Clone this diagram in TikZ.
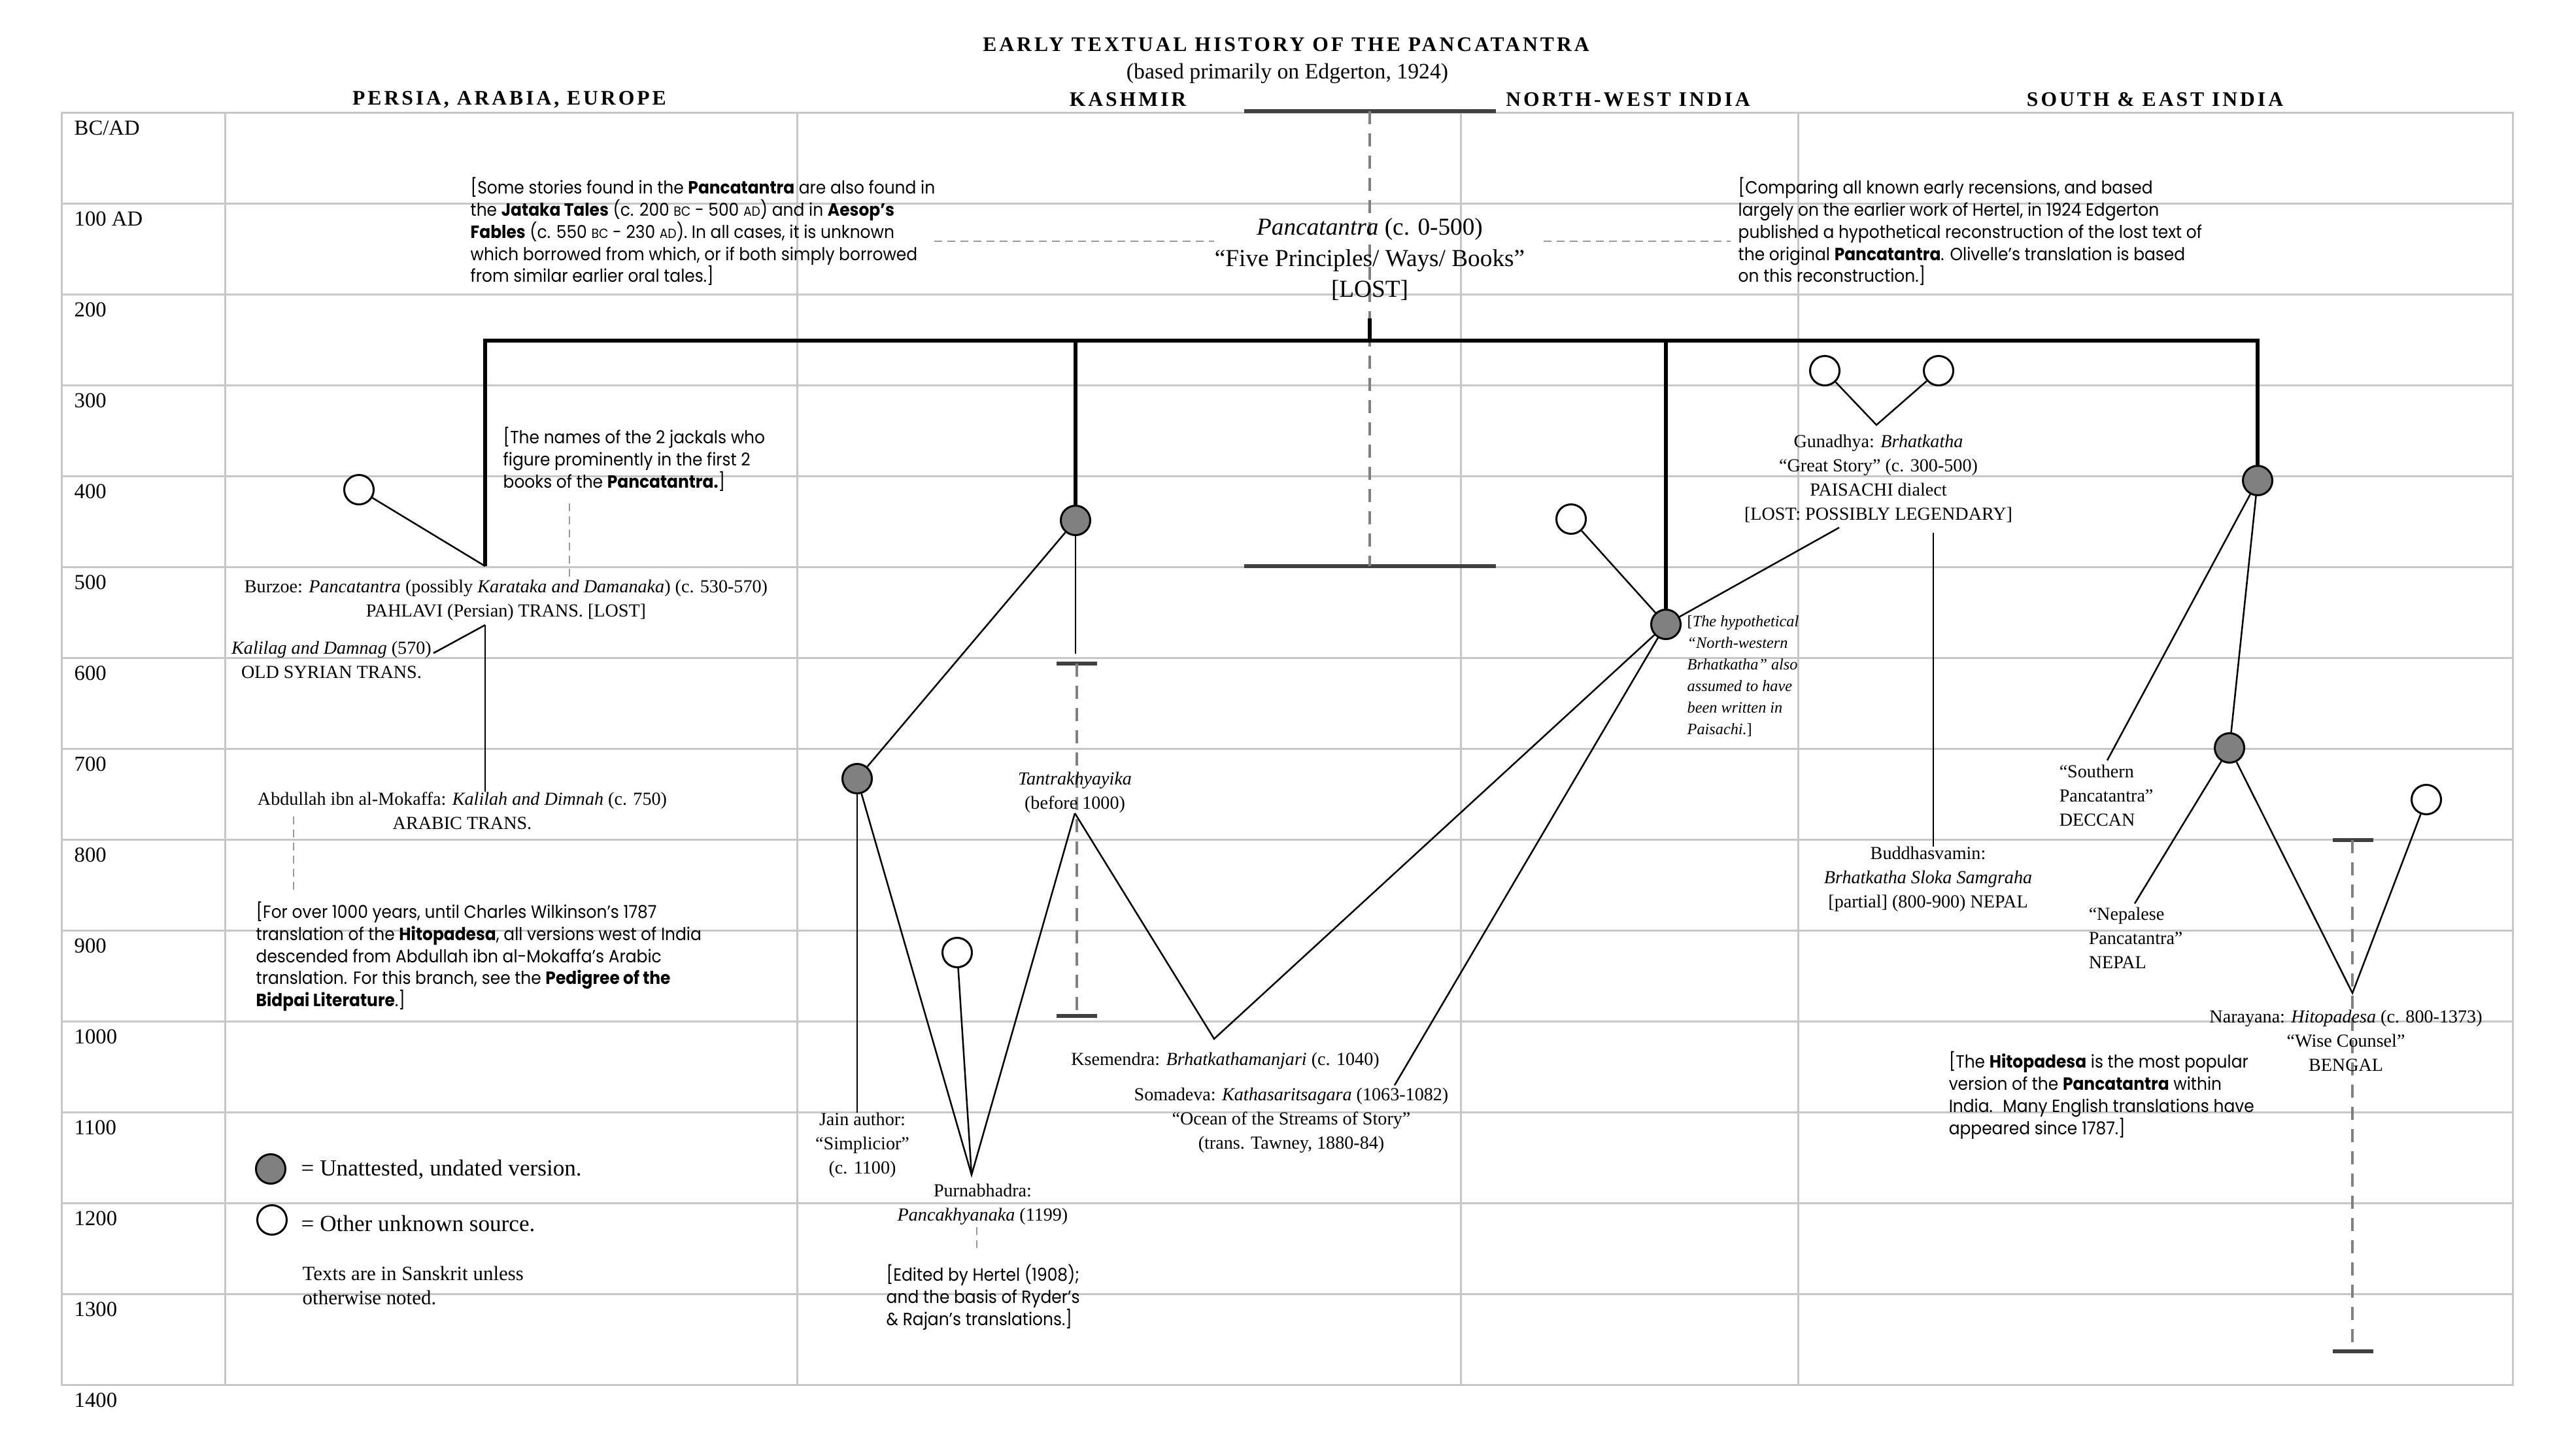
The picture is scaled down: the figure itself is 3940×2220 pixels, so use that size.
\documentclass[tikz,border=0pt]{standalone}
\usepackage{fontspec}
\setmainfont{Liberation Serif}
\newfontfamily\notefont{Poppins}[FakeStretch=0.92]
\newfontfamily\headfont{Liberation Serif}[LetterSpace=12.5]
\newcommand{\bcad}[1]{{\fontsize{5.8}{6}\selectfont #1}}

\begin{document}
\begin{tikzpicture}[x=0.01cm,y=-0.01cm,
  gridline/.style={draw=black!22, line width=0.03cm},
  trunk/.style={line width=0.06cm},
  branch/.style={line width=0.025cm},
  unatt/.style={circle, draw, fill=black!50, line width=0.03cm, minimum size=0.45cm, inner sep=0pt},
  other/.style={circle, draw, fill=white, line width=0.03cm, minimum size=0.45cm, inner sep=0pt},
  guide/.style={draw=black!40, line width=0.025cm, dash pattern=on 0.12cm off 0.08cm},
  span/.style={draw=black!50, line width=0.04cm, dash pattern=on 0.2cm off 0.14cm},
  spancap/.style={draw=black!75, line width=0.06cm},
  lbl/.style={font=\fontsize{8}{10.5}\selectfont, align=center, inner sep=0pt},
  note/.style={font=\notefont\fontsize{7.7}{9.64}\selectfont, align=left, anchor=west, inner sep=0pt},
  region/.style={font=\headfont\bfseries\fontsize{9}{10}\selectfont, inner sep=0pt},
  yearlbl/.style={font=\fontsize{9.3}{10}\selectfont, anchor=west, inner sep=0pt}]
\useasboundingbox (0,0) rectangle (3940,2220);

%grid
\draw[gridline] (94,172) rectangle (3843,2118);
\foreach \gx in {344,1219,2234,2750} \draw[gridline] (\gx,172) -- (\gx,2118);
\foreach \k in {1,...,13} \draw[gridline] (94,172+139*\k) -- (3843,172+139*\k);
\foreach \yr [count=\i from 0] in {BC/AD,100 AD,200,300,400,500,600,700,800,900,1000,1100,1200,1300,1400}
  \node[yearlbl] (yr\i) at (113,196+139*\i) {\yr};

%titles
\node[region] (title) at (1967,68) {EARLY TEXTUAL HISTORY OF THE PANCATANTRA};
\node[lbl, font=\fontsize{9.6}{11}\selectfont] (subtitle) at (1969,112) {(based primarily on Edgerton, 1924)};
\node[region] (persia) at (779,152) {PERSIA, ARABIA, EUROPE};
\node[region] (kashmir) at (1725,152) {KASHMIR};
\node[region] (nwindia) at (2490,152) {NORTH-WEST INDIA};
\node[region] (seindia) at (3296,152) {SOUTH \& EAST INDIA};

%Pancatantra
\draw[spancap] (1903,170) -- (2288,170);
\draw[spancap] (1903,866) -- (2288,866);
\draw[span] (2095,170) -- (2095,866);
\node[lbl, font=\fontsize{10.6}{13.5}\selectfont] (pancha) at (2095,397) {\textit{Pancatantra} (c. 0-500)\\“Five Principles/ Ways/ Books”\\{}[LOST]};
\node[note] (stories) at (719,354) {{}[Some stories found in the \textbf{Pancatantra} are also found in\\the \textbf{Jataka Tales} (c. 200 \bcad{BC} - 500 \bcad{AD}) and in \textbf{Aesop’s}\\\textbf{Fables} (c. 550 \bcad{BC} - 230 \bcad{AD}). In all cases, it is unknown\\which borrowed from which, or if both simply borrowed\\from similar earlier oral tales.]};
\node[note] (recon) at (2658,354) {{}[Comparing all known early recensions, and based\\largely on the earlier work of Hertel, in 1924 Edgerton\\published a hypothetical reconstruction of the lost text of\\the original \textbf{Pancatantra}. Olivelle’s translation is based\\on this reconstruction.]};
\coordinate (storiesguide) at (1429,369);
\coordinate (reconguide) at (2647,369);
\draw[guide] (storiesguide) -- (storiesguide -| pancha.west);
\draw[guide] ([xshift=7.9pt]pancha.east |- reconguide) -- (reconguide);

%trunk
\coordinate (trunktop) at (2095,487);
\coordinate (barL) at (742,521);
\coordinate (barR) at (3453,521);
\coordinate (burz) at (742,866);
\node[unatt] (kas) at (1645,796) {};
\node[unatt] (nw) at (2548,955) {};
\node[unatt] (s1) at (3453,735) {};
\draw[trunk] (burz) -- (barL) -- (barR) -- (s1.north);
\draw[trunk] (trunktop) -- (trunktop |- barL);
\draw[trunk] (kas.north) -- (kas |- barL);
\draw[trunk] (nw.north) -- (nw |- barL);

%Persia, Arabia, Europe
\node[other] (src1) at (549,749) {};
\draw[branch] (src1) -- (burz);
\node[note] (jackals) at (769,702) {{}[The names of the 2 jackals who\\figure prominently in the first 2\\books of the \textbf{Pancatantra.}]};
\node[lbl] (burzoe) at (774,918) {Burzoe: \textit{Pancatantra} (possibly \textit{Karataka and Damanaka}) (c. 530-570)\\PAHLAVI (Persian) TRANS. [LOST]};
\coordinate (jackfoot) at (871,770);
\draw[guide] (jackfoot) -- (jackfoot |- burzoe.north);
\coordinate (burzfoot) at (742,956);
\coordinate (kalilagtip) at (663,999);
\node[lbl] (kalilag) at (507,1009) {\textit{Kalilag and Damnag} (570)\\OLD SYRIAN TRANS.};
\node[lbl] (abdullah) at (707,1240) {Abdullah ibn al-Mokaffa: \textit{Kalilah and Dimnah} (c. 750)\\ARABIC TRANS.};
\draw[branch] (burzfoot) -- (kalilagtip);
\draw[branch] (burzfoot) -- (burzfoot |- abdullah.north);
\node[note] (wilkinson) at (391,1463) {{}[For over 1000 years, until Charles Wilkinson’s 1787\\translation of the \textbf{Hitopadesa}, all versions west of India\\descended from Abdullah ibn al-Mokaffa’s Arabic\\translation. For this branch, see the \textbf{Pedigree of the}\\\textbf{Bidpai Literature}.]};
\coordinate (abdfoot) at (449,1249);
\draw[guide] (abdfoot) -- ([yshift=5pt]abdfoot |- wilkinson.north);

%key
\node[unatt] (keyunatt) at (414,1788) {};
\node[lbl, font=\fontsize{10}{12}\selectfont, anchor=west] (keyunatttxt) at (460,1789) {= Unattested, undated version.};
\node[other] (keyother) at (416,1866) {};
\node[lbl, font=\fontsize{10}{12}\selectfont, anchor=west] (keyothertxt) at (460,1872) {= Other unknown source.};
\node[lbl, font=\fontsize{8.8}{10.5}\selectfont, align=left, anchor=west] (sanskrit) at (462,1966) {Texts are in Sanskrit unless\\otherwise noted.};

%Kashmir
\coordinate (kasfoot) at (1645,1000);
\draw[branch] (kas.south) -- (kasfoot);
\draw[spancap] (1616,1015) -- (1678,1015);
\draw[spancap] (1616,1554) -- (1678,1554);
\draw[span] (1647,1015) -- (1647,1554);
\node[unatt] (kas2) at (1311,1191) {};
\draw[branch] (kas) -- (kas2);
\node[lbl] (tantra) at (1644,1212) {\textit{Tantrakhyayika}\\(before 1000)};
\node[lbl] (jain) at (1319,1752) {Jain author:\\“Simplicior”\\(c. 1100)};
\draw[branch] (kas2) -- (kas2 |- jain.north);
\node[other] (src2) at (1464,1457) {};
\coordinate (purnV) at (1486,1797);
\draw[branch] (kas2) -- (purnV) -- (tantra.south);
\draw[branch] (src2) -- (purnV);
\coordinate (ksemV) at (1857,1589);
\draw[branch] (tantra.south) -- (ksemV) -- (nw);
\node[lbl] (purna) at (1503,1842) {Purnabhadra:\\\textit{Pancakhyanaka} (1199)};
\coordinate (purnfoot) at (1494,1877);
\node[note] (edited) at (1355,1984) {{}[Edited by Hertel (1908);\\and the basis of Ryder’s\\\& Rajan’s translations.]};
\draw[guide] (purnfoot) -- ([yshift=5pt]purnfoot |- edited.north);
\node[lbl] (ksem) at (1874,1623) {Ksemendra: \textit{Brhatkathamanjari} (c. 1040)};
\node[lbl] (soma) at (1975,1714) {Somadeva: \textit{Kathasaritsagara} (1063-1082)\\“Ocean of the Streams of Story”\\(trans. Tawney, 1880-84)};
\coordinate (somatip) at (2133,1660);
\draw[branch] (somatip) -- (nw);

%North-West India
\node[other] (src3) at (2403,794) {};
\draw[branch] (src3) -- (nw);
\coordinate (gunatip) at (2813,807);
\draw[branch] (nw) -- (gunatip);
\node[lbl, font=\itshape\fontsize{6.9}{9.35}\selectfont, align=left, anchor=west] (nwnote) at (2580,1034) {\textup{[}The hypothetical\\“North-western\\Brhatkatha” also\\assumed to have\\been written in\\Paisachi.\textup{]}};
\node[other] (src4) at (2791,567) {};
\node[other] (src5) at (2965,567) {};
\node[lbl] (guna) at (2873,732) {Gunadhya: \textit{Brhatkatha}\\“Great Story” (c. 300-500)\\PAISACHI dialect\\{}[LOST: POSSIBLY LEGENDARY]};
\coordinate (gunaV) at (2870,650);
\draw[branch] (src4) -- (gunaV) -- (src5);
\coordinate (gunafoot) at (2957,815);
\node[lbl] (budd) at (2949,1345) {Buddhasvamin:\\\textit{Brhatkatha Sloka Samgraha}\\{}[partial] (800-900) NEPAL};
\draw[branch] (gunafoot) -- (gunafoot |- budd.north);

%South & East India
\node[unatt] (s2) at (3410,1144) {};
\draw[branch] (s1) -- (s2);
\coordinate (southtip) at (3223,1163);
\draw[branch] (s1) -- (southtip);
\node[lbl, align=left, anchor=west] (southern) at (3149,1217) {“Southern\\Pancatantra”\\DECCAN};
\coordinate (nepaltip) at (3265,1382);
\draw[branch] (s2) -- (nepaltip);
\node[lbl, align=left, anchor=west] (nepalese) at (3194,1435) {“Nepalese\\Pancatantra”\\NEPAL};
\draw[spancap] (3568,1285) -- (3630,1285);
\draw[spancap] (3568,2067) -- (3630,2067);
\draw[span] (3598,1285) -- (3598,2067);
\node[other] (src6) at (3711,1223) {};
\coordinate (naraV) at (3598,1519);
\draw[branch] (s2) -- (naraV) -- (src6);
\node[lbl] (nara) at (3588,1592) {Narayana: \textit{Hitopadesa} (c. 800-1373)\\“Wise Counsel”\\BENGAL};
\node[note] (hitonote) at (2980,1675) {{}[The \textbf{Hitopadesa} is the most popular\\version of the \textbf{Pancatantra} within\\India.~ Many English translations have\\appeared since 1787.]};

\end{tikzpicture}
\end{document}
